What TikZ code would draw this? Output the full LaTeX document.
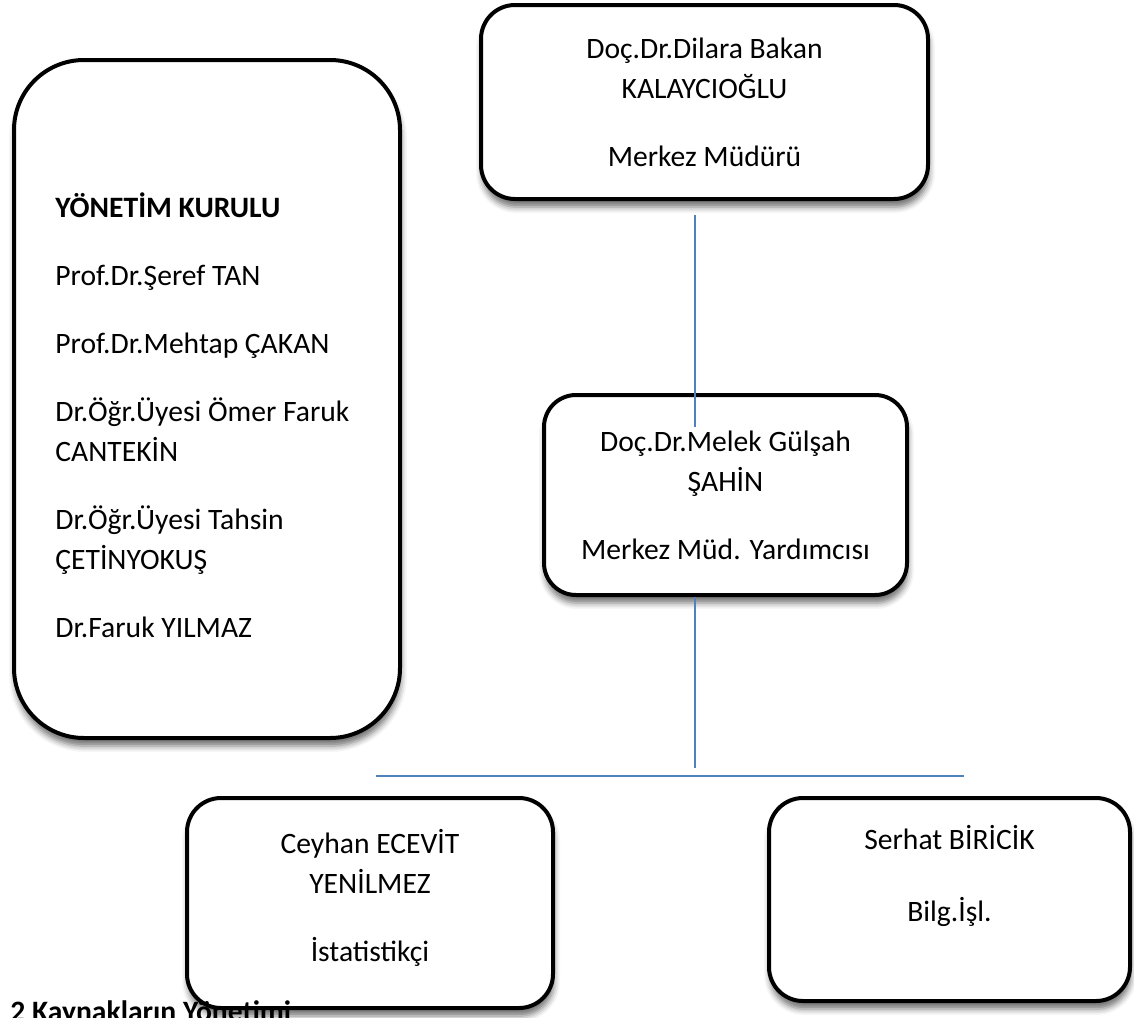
\documentclass[tikz,border=0pt]{standalone}
\usepackage{fontspec}
\setmainfont{Carlito}
\usetikzlibrary{shadows.blur}
\definecolor{hatmavi}{RGB}{79,129,189}
\newcommand{\yazi}{\fontsize{14.8}{20}\selectfont}
\newcommand{\bosluk}{\\[14pt]}
\begin{document}
\begin{tikzpicture}[x=0.5pt,y=-0.5pt,
    kutu/.style={draw,line width=2pt,fill=white,rounded corners=#1,
      blur shadow={shadow xshift=0.5pt,shadow yshift=-4pt,
        shadow blur radius=3pt,shadow opacity=55},
      align=center,inner sep=0pt,font=\yazi},
    kutu/.default=17pt,
    hat/.style={draw=hatmavi,line width=0.8pt}]
  \useasboundingbox (0,0) rectangle (1134,1017);
  \node[kutu=35pt,minimum width=193pt,minimum height=339pt] (kurul) at (207,399) {};
  \node[anchor=north west,align=left,font=\yazi,inner sep=0pt] (uyeler) at (55,192)
    {\textbf{YÖNETİM KURULU}\bosluk Prof.Dr.Şeref TAN\bosluk Prof.Dr.Mehtap ÇAKAN\bosluk
     Dr.Öğr.Üyesi Ömer Faruk\\CANTEKİN\bosluk Dr.Öğr.Üyesi Tahsin\\ÇETİNYOKUŞ\bosluk Dr.Faruk YILMAZ};
  \node[kutu,minimum width=223.5pt,minimum height=97pt] (mudur) at (704.5,102)
    {Doç.Dr.Dilara Bakan\\KALAYCIOĞLU\bosluk Merkez Müdürü};
  \node[kutu=16pt,minimum width=181.5pt,minimum height=100pt] (yard) at (725.5,495)
    {Doç.Dr.Melek Gülşah\\ŞAHİN\bosluk Merkez Müd. Yardımcısı};
  \node[kutu,minimum width=183pt,minimum height=105pt] (istat) at (370,903)
    {Ceyhan ECEVİT\\YENİLMEZ\bosluk İstatistikçi\\[-12pt]\mbox{}};
  \node[kutu,minimum width=180.5pt,minimum height=101.5pt] (bilgi) at (949.5,899.5)
    {Serhat BİRİCİK\\[16pt]Bilg.İşl.\\[6.5pt]\mbox{}};
  \coordinate (govde) at (695,427);
  \coordinate (alt) at (695,768);
  \coordinate (solu) at (376,776);
  \coordinate (sagu) at (964,776);
  \begin{scope}[hat]
    \draw[shorten <=7pt] (mudur.south -| govde) -- (govde);
    \draw (yard.south -| alt) -- (alt);
    \draw (solu) -- (sagu);
  \end{scope}
  \node[anchor=base west,font=\yazi\bfseries,inner sep=0pt] (baslik) at (10,1021) {2 Kaynakların Yönetimi};
\end{tikzpicture}
\end{document}
